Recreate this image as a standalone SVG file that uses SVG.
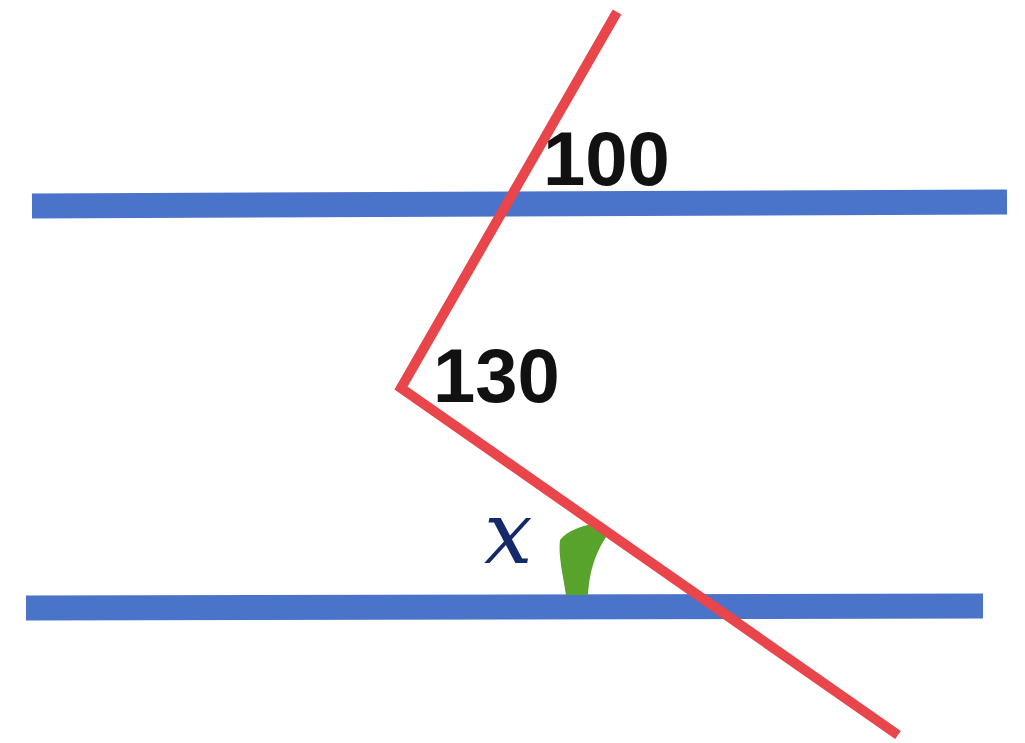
<svg xmlns="http://www.w3.org/2000/svg" width="1025" height="743" viewBox="0 0 1025 743">
<style>
.par{stroke:#4A74C9;stroke-width:25;fill:none}
.tr{stroke:#E8464A;stroke-width:10;fill:none;stroke-linejoin:miter}
.lbl{font-family:"Liberation Sans",Arial,sans-serif;font-weight:bold;font-size:76px;fill:#111}
</style>
<rect width="1025" height="743" fill="#fff"/>
<g id="parallel-lines">
<line class="par" x1="32" y1="206" x2="1007" y2="202"/>
<line class="par" x1="26" y1="608" x2="983" y2="606"/>
</g>
<path id="angle-mark" d="M560,540 C568,530 582,526 596,523 L606,537 C598,550 590,565 588,595 L566,595 C563,575 558,555 560,540 Z" fill="#58A32B"/>
<g id="transversal">
<polyline class="tr" points="617,12 401,388 898,735"/>
</g>
<text class="lbl" x="543" y="185">100</text>
<text class="lbl" x="433" y="402">130</text>
<text x="484" y="563" font-family="'DejaVu Serif',serif" font-style="italic" font-size="86" fill="#13296A">x</text>
</svg>
